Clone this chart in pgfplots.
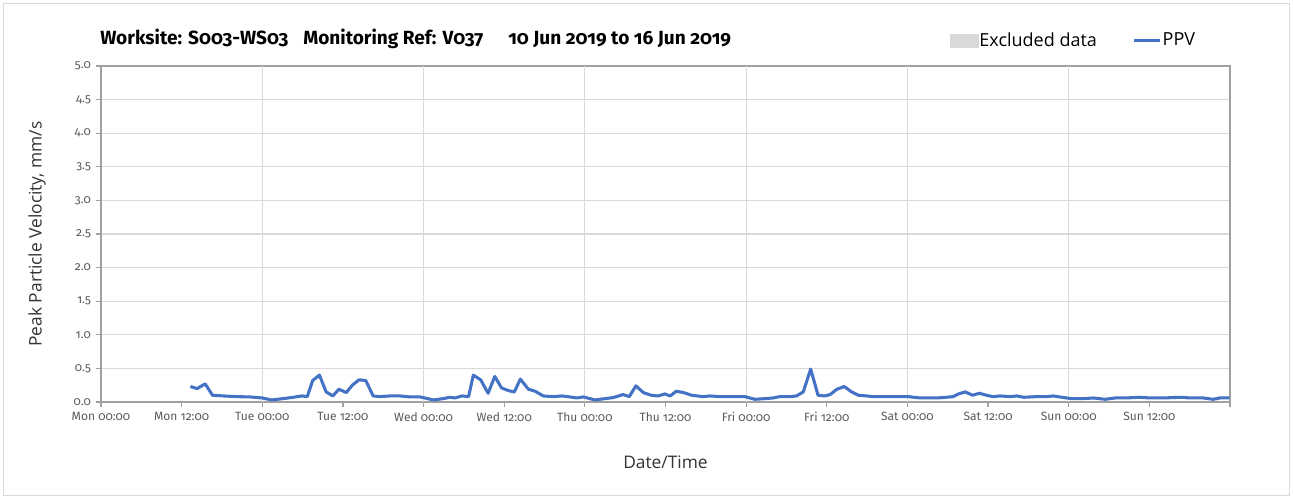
\documentclass[border=0pt]{standalone}
\usepackage{fontspec}
\usepackage{pgfplots}
\pgfplotsset{compat=1.18}
\setmainfont{Open Sans}
\newfontfamily\oldnum[Numbers=OldStyle]{Fira Sans}
\newcommand\tickfont{\oldnum\addfontfeatures{Numbers=OldStyle}\fontsize{9}{11}\selectfont}

\definecolor{ppv}{HTML}{4472C4}
\definecolor{gridc}{HTML}{D9D9D9}
\definecolor{axisc}{HTML}{A0A0A0}
\definecolor{tickc}{HTML}{595959}

\begin{document}
\begin{tikzpicture}
\begin{axis}[
    scale only axis,
    width=846.75pt, height=252pt,
    xmin=0, xmax=168, ymin=0, ymax=5,
    axis line style={axisc, line width=0.9pt},
    tick style={axisc, line width=0.9pt},
    tick align=outside,
    xtick pos=bottom, ytick pos=left,
    major tick length=4pt,
    xtick={0,12,...,168},
    xticklabels={Mon 00:00,Mon 12:00,Tue 00:00,Tue 12:00,Wed 00:00,Wed 12:00,Thu 00:00,Thu 12:00,Fri 00:00,Fri 12:00,Sat 00:00,Sat 12:00,Sun 00:00,Sun 12:00,},
    xticklabel style={font=\tickfont, text=tickc},
    extra x ticks={24,48,72,96,120,144},
    extra x tick labels={},
    extra x tick style={grid=major, major tick length=0pt},
    ytick={0,0.5,...,5},
    yticklabel={\tickfont\pgfmathprintnumber[fixed, fixed zerofill, precision=1, assume math mode=true]{\tick}},
    yticklabel style={text=tickc},
    ymajorgrids,
    grid style={gridc, line width=0.8pt},
    xlabel={Date/Time},
    ylabel={Peak Particle Velocity, mm/s},
    label style={font=\fontsize{13}{15}\selectfont, text=black!80},
    xlabel style={yshift=-15pt},
    ylabel style={yshift=14pt},
    legend columns=2,
    legend style={draw=none, fill=none, at={(1,1)}, anchor=south east,
        xshift=-22pt, yshift=10pt, font=\fontsize{13.5}{15}\selectfont,
        /tikz/every even column/.append style={column sep=25.5pt},
        nodes={inner sep=1pt}},
]
\addlegendimage{legend image code/.code={\fill[gridc] (0pt,-5pt) rectangle (21pt,5pt);}}
\addlegendentry{Excluded data}
\addplot[ppv, line width=2.3pt, line join=round, no marks,
    legend image code/.code={\draw[ppv, line width=2.3pt] (0pt,0pt) -- (19.5pt,0pt);}] table {
13.3 0.23
14.3 0.20
15.5 0.27
16.6 0.10
18.2 0.09
20.2 0.08
22.2 0.075
24.0 0.06
25.4 0.03
27.1 0.05
28.6 0.07
29.9 0.09
30.7 0.08
31.5 0.32
32.5 0.40
33.5 0.15
34.5 0.09
35.4 0.19
36.5 0.14
37.4 0.25
38.4 0.33
39.4 0.32
40.5 0.09
41.5 0.08
43.0 0.09
44.5 0.09
46.0 0.075
47.5 0.075
49.5 0.03
50.9 0.05
51.9 0.07
52.7 0.06
53.7 0.09
54.7 0.08
55.4 0.40
56.5 0.33
57.6 0.13
58.6 0.38
59.6 0.21
60.6 0.17
61.5 0.15
62.4 0.34
63.6 0.19
64.6 0.16
65.8 0.09
67.3 0.08
68.6 0.09
69.8 0.075
70.8 0.06
71.8 0.075
73.5 0.03
75.0 0.05
76.2 0.065
77.7 0.11
78.6 0.08
79.6 0.24
80.7 0.14
81.9 0.10
82.9 0.09
83.9 0.12
84.7 0.09
85.6 0.16
86.7 0.14
87.9 0.10
89.6 0.08
90.6 0.09
92.1 0.08
94.1 0.08
95.8 0.08
97.3 0.04
98.8 0.05
100.0 0.06
101.0 0.08
102.5 0.08
103.5 0.09
104.5 0.15
105.6 0.49
106.7 0.10
107.7 0.09
108.5 0.11
109.5 0.19
110.6 0.23
111.7 0.15
112.7 0.10
113.9 0.09
114.9 0.08
117.4 0.08
120.1 0.08
121.9 0.06
124.4 0.06
125.8 0.07
126.8 0.08
127.6 0.12
128.6 0.15
129.7 0.10
130.7 0.13
131.8 0.10
132.7 0.08
133.8 0.09
135.3 0.08
136.3 0.09
137.3 0.07
139.2 0.08
140.7 0.08
141.7 0.09
143.0 0.07
144.4 0.05
146.2 0.05
147.7 0.06
149.4 0.04
150.9 0.06
152.6 0.06
154.4 0.07
156.1 0.06
158.1 0.06
160.6 0.07
162.1 0.06
164.0 0.06
165.5 0.04
166.5 0.06
167.9 0.06
};
\addlegendentry{PPV}
\end{axis}
\begin{scope}[shift={(current axis.south west)}, x=0.75pt, y=-0.75pt, shift={(-101,-402)}]
  \node[anchor=base west, inner sep=0pt, font=\oldnum\bfseries\fontsize{14.3}{16}\selectfont]
    at (100,45) {Worksite: S003-WS03\hspace{0.78em}Monitoring Ref: V037\hspace{1.3em}10 Jun 2019 to 16 Jun 2019};
  \draw[gridc, line width=0.6pt] (3,3) rectangle (1289,495);
  \pgfresetboundingbox
  \path (0,0) rectangle (1293,498);
\end{scope}
\end{tikzpicture}
\end{document}
